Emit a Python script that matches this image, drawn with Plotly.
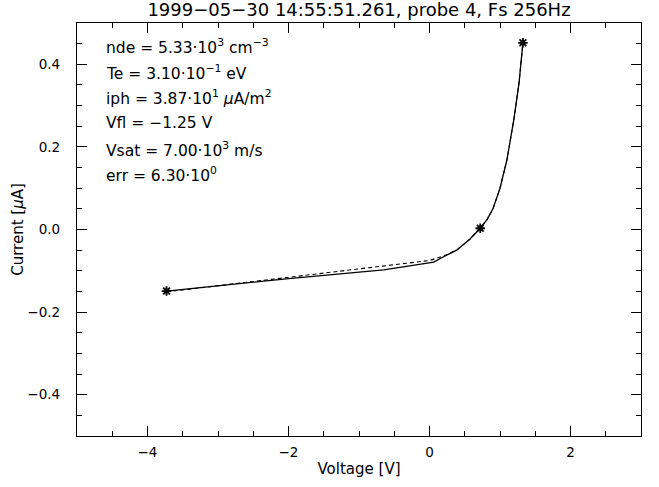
import plotly.graph_objects as go

# Measured probe sweep (solid)
volt_meas = [-3.73, -2.0, -0.65, 0.06, 0.2, 0.385, 0.575, 0.72, 0.82, 0.9, 1.0, 1.1, 1.2, 1.27, 1.325]
curr_meas = [-0.149, -0.119, -0.098, -0.079, -0.066, -0.050, -0.023, 0.003, 0.025, 0.050, 0.100, 0.170, 0.270, 0.355, 0.452]

# Fitted characteristic (dashed)
volt_fit = [-3.73, -2.0, -1.0, 0.0, 0.2, 0.385, 0.575, 0.72, 0.82, 0.9, 1.0, 1.1, 1.2, 1.27, 1.325]
curr_fit = [-0.151, -0.116, -0.096, -0.075, -0.064, -0.050, -0.023, 0.003, 0.025, 0.050, 0.100, 0.170, 0.270, 0.355, 0.452]

# Marked points (asterisks)
volt_mark = [-3.73, 0.72, 1.325]
curr_mark = [-0.149, 0.003, 0.452]

x_ticks = [-4, -2, 0, 2]
y_ticks = [-0.4, -0.2, 0.0, 0.2, 0.4]

info_lines = [
    "nde = 5.33·10<sup>3</sup> cm<sup>−3</sup>",
    "Te = 3.10·10<sup>−1</sup> eV",
    "iph = 3.87·10<sup>1</sup> <i>μ</i>A/m<sup>2</sup>",
    "Vfl = −1.25 V",
    "Vsat = 7.00·10<sup>3</sup> m/s",
    "err = 6.30·10<sup>0</sup>",
]

title_text = "1999−05−30 14:55:51.261, probe 4, Fs 256Hz"

FONT = "DejaVu Sans"

fig = go.Figure()
fig.add_trace(go.Scatter(x=volt_fit, y=curr_fit, mode="lines",
                         line=dict(color="black", width=1.1, dash="4px,3px"),
                         hoverinfo="skip"))
fig.add_trace(go.Scatter(x=volt_meas, y=curr_meas, mode="lines",
                         line=dict(color="black", width=1.3)))
fig.add_trace(go.Scatter(x=volt_mark, y=curr_mark, mode="markers",
                         marker=dict(symbol="asterisk-open", size=8, color="black",
                                     line=dict(color="black", width=1.8))))

W, H = 659, 487
L, R, T, B = 77, 641, 23, 438
for i, txt in enumerate(info_lines):
    ypix = 46.5 + i * 25.8
    fig.add_annotation(text=txt, xref="paper", yref="paper",
                       x=(104 - L) / (R - L), y=(B - ypix) / (B - T),
                       xanchor="left", yanchor="middle", showarrow=False,
                       font=dict(family=FONT, size=15.5, color="black"))

axis_common = dict(
    showline=True, linecolor="black", linewidth=1.3, mirror="ticks",
    ticks="inside", ticklen=10, tickwidth=1, tickcolor="black",
    showgrid=False, zeroline=False,
    tickfont=dict(family=FONT, size=13.5, color="black"),
)

fig.update_layout(
    width=W, height=H,
    margin=dict(l=L, r=W - R, t=T, b=H - B),
    paper_bgcolor="white", plot_bgcolor="white",
    showlegend=False,
    title=dict(text=title_text, x=0.5, xref="paper", xanchor="center",
               y=1 - 10 / H, yref="container", yanchor="middle",
               font=dict(family=FONT, size=18, color="black")),
    xaxis=dict(range=[-5, 3], tickvals=x_ticks, ticktext=["−4", "−2", "0", "2"],
               minor=dict(dtick=0.5, tick0=0, ticks="inside", ticklen=5, tickcolor="black"),
               ticklabelstandoff=4,
               title=dict(text="Voltage [V]", font=dict(family=FONT, size=15, color="black"), standoff=4),
               **axis_common),
    yaxis=dict(range=[-0.5, 0.5], tickvals=y_ticks, ticktext=["−0.4", "−0.2", "0.0", "0.2", "0.4"],
               minor=dict(dtick=0.05, tick0=0, ticks="inside", ticklen=5, tickcolor="black"),
               ticklabelstandoff=13,
               title=dict(text="Current [<i>μ</i>A]", font=dict(family=FONT, size=15, color="black"), standoff=0),
               **axis_common),
)

fig.write_html("out.html", config={"displayModeBar": False},
               post_script="document.body.style.margin='0px';")
